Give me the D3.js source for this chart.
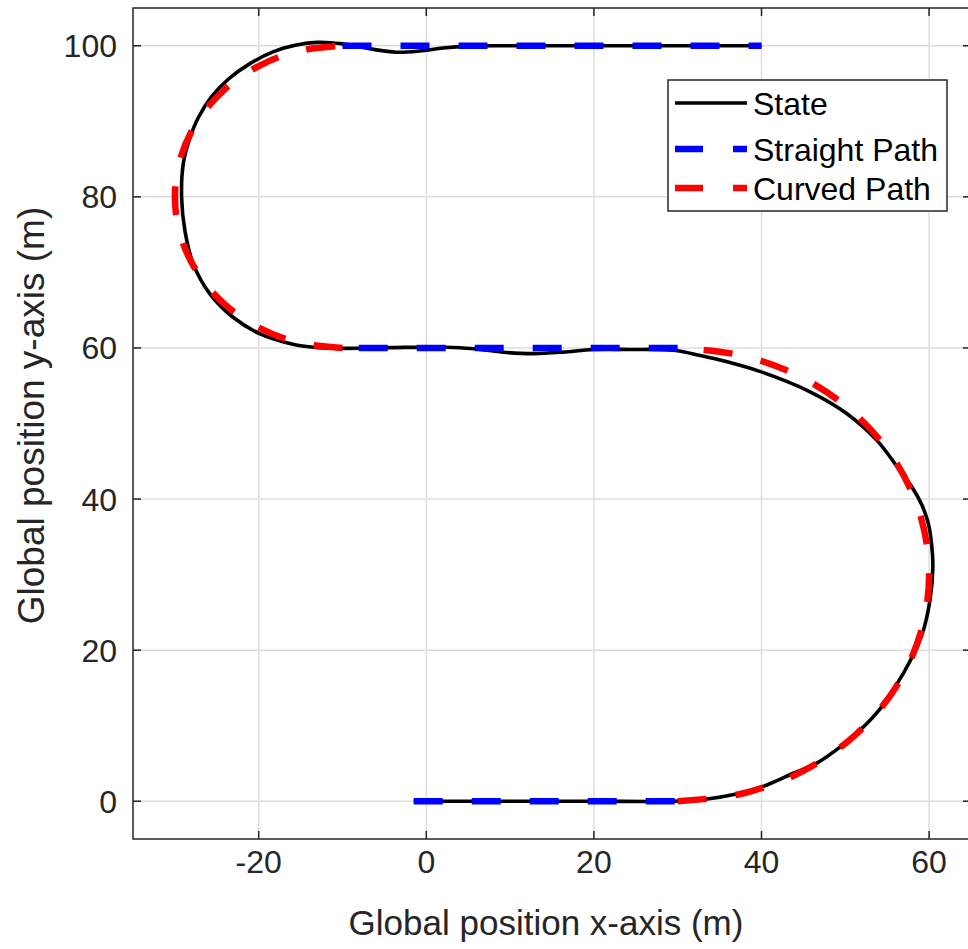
<!DOCTYPE html>
<html>
<head>
<meta charset="utf-8">
<script src="https://cdn.jsdelivr.net/npm/d3@7"></script>
<style>
  body { margin: 0; background: #fff; }
  text { font-family: "Liberation Sans", Arial, Helvetica, sans-serif; fill: #262626; }
</style>
</head>
<body>
<svg id="chart" width="968" height="949"></svg>
<script>
// Axis setup
const xDomain = [-35, 65];
const yDomain = [-5, 105];
const xTicks = [-20, 0, 20, 40, 60];
const yTicks = [0, 20, 40, 60, 80, 100];
const xLabel = "Global position x-axis (m)";
const yLabel = "Global position y-axis (m)";
const seriesNames = ["State", "Straight Path", "Curved Path"];

// Reference path: straight pieces
const straightSegments = [
  [[-1.5, 0], [30, 0]],
  [[30, 60], [-10, 60]],
  [[-10, 100], [40, 100]]
];

// Reference path: right-hand turn (x, y)
const curvedRightX = [30, 37.76, 45, 51.21, 55.98, 58.98, 60, 58.98, 55.98, 51.21, 45, 37.76, 30];
const curvedRightY = [0, 1.02, 4.02, 8.79, 15, 22.24, 30, 37.76, 45, 51.21, 55.98, 58.98, 60];

// Reference path: left-hand turn (x, y)
const curvedLeftX = [-10, -15.18, -20, -24.14, -27.32, -29.32, -30, -29.32, -27.32, -24.14, -20, -15.18, -10];
const curvedLeftY = [60, 60.68, 62.68, 65.86, 70, 74.82, 80, 85.18, 90, 94.14, 97.32, 99.32, 100];

// Vehicle state trajectory
const stateX = [-1.5, 10, 20, 29.5, 33.5, 37.0, 40.2, 43.8, 46.6, 49.4, 51.8, 54.2, 56.1, 57.7, 59.2, 60.1, 60.45, 60.3, 59.9, 59.1, 57.9, 56.5, 53.75, 50.2, 45.8, 39.8, 35.8, 32.7, 29.5, 24.3, 19.9, 16.3, 12.75, 9.6, 5.6, 2.4, -4.4, -10.3, -13.5, -16.3, -19.9, -23.1, -25.85, -27.8, -28.8, -29.2, -29.0, -28.3, -27.2, -25.6, -23.6, -21.1, -18.3, -15.5, -13.0, -10.0, -6.75, -3.6, -0.8, 2, 5, 10, 20, 30, 40];
const stateY = [0, 0, 0, 0, 0.3, 0.95, 1.96, 3.7, 5.05, 7.2, 9.45, 12.3, 15.4, 18.5, 22.2, 26.6, 31, 34, 36.8, 39.3, 41.7, 43.8, 47.8, 51.3, 54.2, 56.9, 58.2, 59.0, 59.7, 59.8, 59.8, 59.45, 59.25, 59.4, 59.9, 60.1, 60.05, 59.95, 60.1, 60.6, 61.9, 64.1, 67.2, 71.1, 75.5, 79.95, 84.4, 87.5, 90.5, 93.3, 95.6, 97.6, 99.2, 100.1, 100.45, 100.25, 99.6, 99.15, 99.3, 99.7, 99.95, 100, 100, 100, 100];

const colors = { state: "#000000", straight: "#0000ff", curved: "#ff0000", axis: "#262626", grid: "#dedede" };

const svg = d3.select("#chart");
const plot = { left: 133, right: 971, top: 8, bottom: 839 };

const x = d3.scaleLinear().domain(xDomain).range([plot.left, plot.right]);
const y = d3.scaleLinear().domain(yDomain).range([plot.bottom, plot.top]);

svg.append("defs").append("clipPath").attr("id", "plot-clip")
  .append("rect")
  .attr("x", plot.left).attr("y", plot.top)
  .attr("width", plot.right - plot.left).attr("height", plot.bottom - plot.top);

// Grid
const grid = svg.append("g");
grid.selectAll(".gx").data(xTicks).join("line")
  .attr("x1", d => x(d)).attr("x2", d => x(d))
  .attr("y1", plot.top).attr("y2", plot.bottom)
  .attr("stroke", colors.grid).attr("stroke-width", 1.5);
grid.selectAll(".gy").data(yTicks).join("line")
  .attr("y1", d => y(d)).attr("y2", d => y(d))
  .attr("x1", plot.left).attr("x2", plot.right)
  .attr("stroke", colors.grid).attr("stroke-width", 1.5);

const zip = (xs, ys) => xs.map((v, i) => [v, ys[i]]);
const smooth = d3.line().x(d => x(d[0])).y(d => y(d[1])).curve(d3.curveCatmullRom.alpha(0.5));
const straight = d3.line().x(d => x(d[0])).y(d => y(d[1]));

const marks = svg.append("g").attr("clip-path", "url(#plot-clip)");

// State
marks.append("path")
  .datum(zip(stateX, stateY))
  .attr("d", smooth)
  .attr("fill", "none")
  .attr("stroke", colors.state)
  .attr("stroke-width", 3.6)
  .attr("stroke-linejoin", "round");

// Straight path
marks.selectAll(".straight").data(straightSegments).join("path")
  .attr("d", straight)
  .attr("fill", "none")
  .attr("stroke", colors.straight)
  .attr("stroke-width", 6.5)
  .attr("stroke-dasharray", "29 29");

// Curved path
[zip(curvedRightX, curvedRightY), zip(curvedLeftX, curvedLeftY)].forEach(pts => {
  marks.append("path")
    .datum(pts)
    .attr("d", smooth)
    .attr("fill", "none")
    .attr("stroke", colors.curved)
    .attr("stroke-width", 6.5)
    .attr("stroke-dasharray", "29 29");
});

// Axes box with inward ticks
const axes = svg.append("g").attr("stroke", colors.axis).attr("stroke-width", 1.5);
axes.append("rect")
  .attr("x", plot.left).attr("y", plot.top)
  .attr("width", plot.right - plot.left).attr("height", plot.bottom - plot.top)
  .attr("fill", "none");
const tickLen = 8;
xTicks.forEach(t => {
  axes.append("line").attr("x1", x(t)).attr("x2", x(t)).attr("y1", plot.bottom).attr("y2", plot.bottom - tickLen);
  axes.append("line").attr("x1", x(t)).attr("x2", x(t)).attr("y1", plot.top).attr("y2", plot.top + tickLen);
});
yTicks.forEach(t => {
  axes.append("line").attr("y1", y(t)).attr("y2", y(t)).attr("x1", plot.left).attr("x2", plot.left + tickLen);
  axes.append("line").attr("y1", y(t)).attr("y2", y(t)).attr("x1", plot.right).attr("x2", plot.right - tickLen);
});

// Tick labels
svg.append("g").selectAll("text").data(xTicks).join("text")
  .attr("x", d => x(d)).attr("y", 873)
  .attr("text-anchor", "middle")
  .style("font-size", "32px")
  .text(d => d);
svg.append("g").selectAll("text").data(yTicks).join("text")
  .attr("x", 117).attr("y", d => y(d))
  .attr("dy", "0.36em")
  .attr("text-anchor", "end")
  .style("font-size", "32px")
  .text(d => d);

// Axis titles
svg.append("text")
  .attr("x", (plot.left + plot.right) / 2 - 6).attr("y", 935)
  .attr("text-anchor", "middle")
  .style("font-size", "35px")
  .text(xLabel);
svg.append("text")
  .attr("transform", `translate(44, ${(plot.top + plot.bottom) / 2 - 8}) rotate(-90)`)
  .attr("text-anchor", "middle")
  .style("font-size", "37px")
  .text(yLabel);

// Legend
const legend = svg.append("g").attr("transform", "translate(668, 80)");
legend.append("rect")
  .attr("width", 279).attr("height", 131)
  .attr("fill", "#fff").attr("stroke", colors.axis).attr("stroke-width", 1.5);
const legendItems = [
  { name: seriesNames[0], color: colors.state, width: 3.6, dash: null },
  { name: seriesNames[1], color: colors.straight, width: 6.5, dash: "28 30" },
  { name: seriesNames[2], color: colors.curved, width: 6.5, dash: "28 30" }
];
const rowY = [23, 69, 108];
legendItems.forEach((item, i) => {
  legend.append("line")
    .attr("x1", 7).attr("x2", 79)
    .attr("y1", rowY[i]).attr("y2", rowY[i])
    .attr("stroke", item.color).attr("stroke-width", item.width)
    .attr("stroke-dasharray", item.dash);
  legend.append("text")
    .attr("x", 85).attr("y", rowY[i]).attr("dy", "0.36em")
    .style("font-size", "32px").style("fill", "#000")
    .text(item.name);
});
</script>
</body>
</html>
